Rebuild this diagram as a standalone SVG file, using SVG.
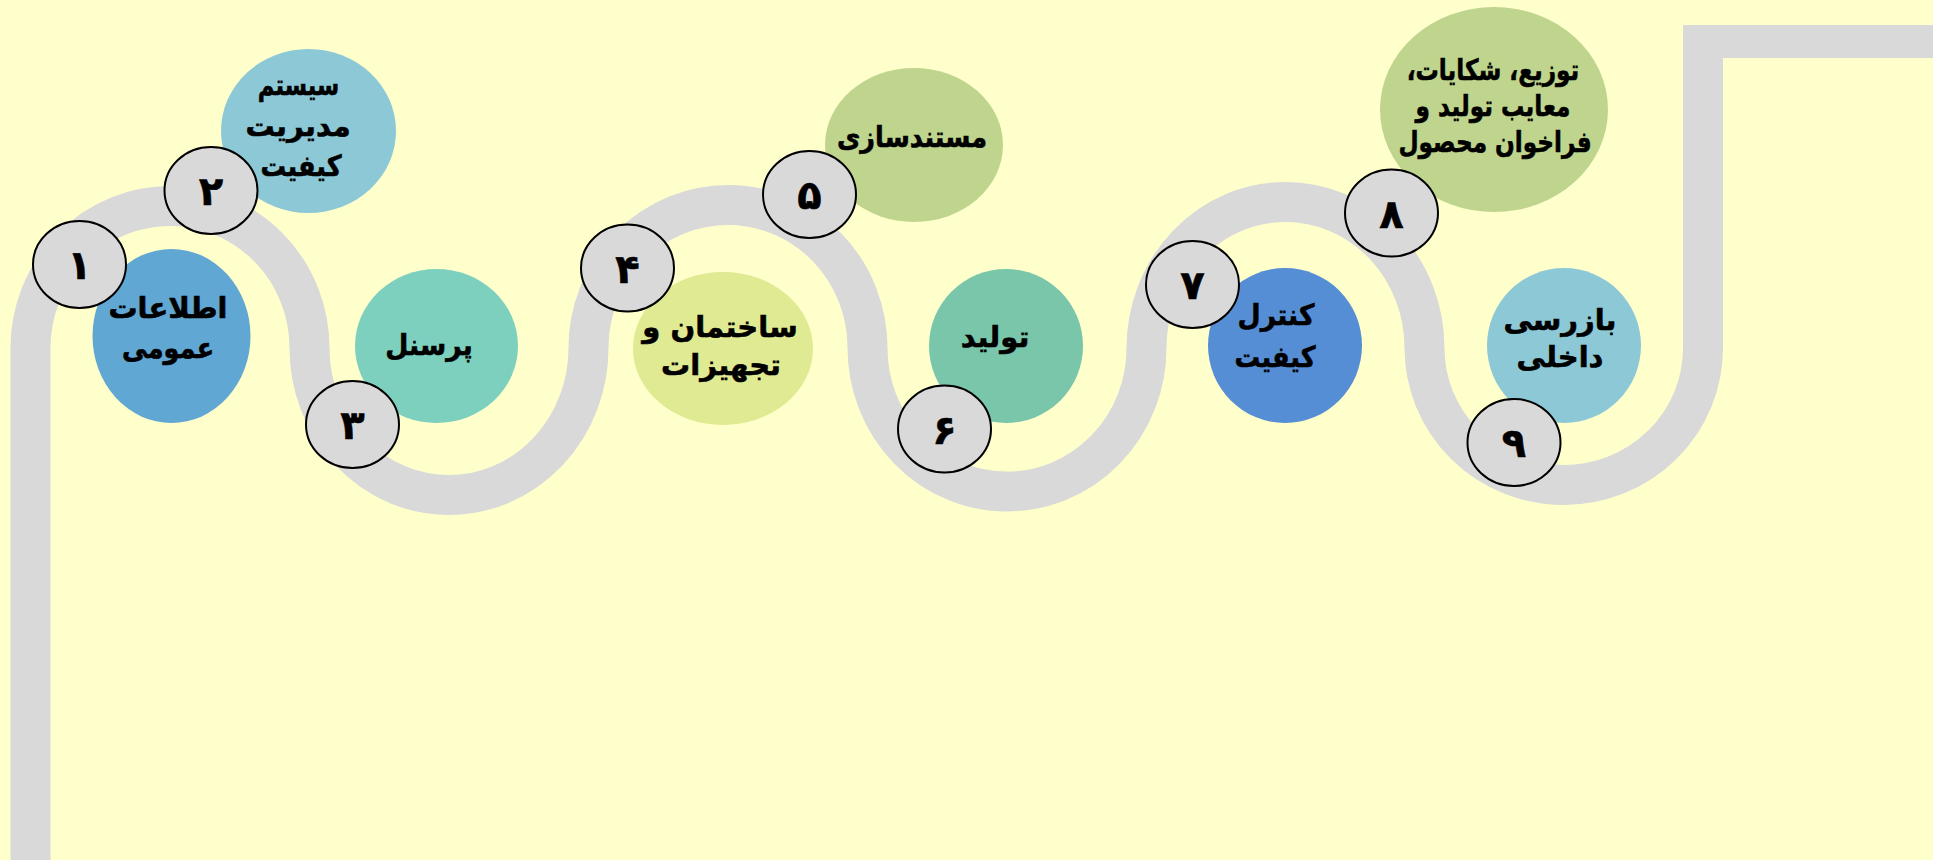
<svg xmlns="http://www.w3.org/2000/svg" width="1933" height="860" viewBox="0 0 1933 860">
<style>
.road{fill:none;stroke:#D9D9D9;stroke-width:40;stroke-linecap:butt}
.bar{fill:#D9D9D9}
.step{fill:#D9D9D9;stroke:#000;stroke-width:2}
.num{font-family:'DejaVu Sans',sans-serif;font-weight:bold;font-size:40px;fill:#000;stroke:#000;stroke-width:0.6;text-anchor:middle;direction:rtl}
.lbl{font-family:'DejaVu Sans',sans-serif;font-weight:bold;font-size:29px;fill:#000;stroke:#000;stroke-width:0.6;text-anchor:middle;direction:rtl}
</style>
<rect x="0" y="0" width="1933" height="860" fill="#FFFFCC"/>
<g id="connectors">
<path class="road" d="M 30.5 860 V 348 A 139.5 142 0 0 1 309.5 348 A 139.5 147 0 0 0 588.5 348 A 139.5 143 0 0 1 867.5 348 A 139.5 143.5 0 0 0 1146.5 348 A 139 146 0 0 1 1424.5 348 A 139.25 137 0 0 0 1703 348 V 25"/>
<rect class="bar" x="1683" y="25" width="250" height="33"/>
</g>
<g id="node1">
<ellipse cx="171.5" cy="336" rx="79" ry="87" fill="#61A7D4"/>
<text class="lbl" x="168" y="318">اطلاعات</text>
<text class="lbl" transform="translate(168,358) scale(0.88,1)" x="0" y="0">عمومی</text>
<ellipse class="step" cx="79.5" cy="264.5" rx="46.5" ry="43.5"/>
<text class="num" x="79.5" y="279">۱</text>
</g>
<g id="node2">
<ellipse cx="308.5" cy="131" rx="87.5" ry="82" fill="#8DC8D7"/>
<text class="lbl" transform="translate(298.5,95) scale(0.78,1)" x="0" y="0">سیستم</text>
<text class="lbl" x="298" y="136">مدیریت</text>
<text class="lbl" transform="translate(301,176) scale(0.88,1)" x="0" y="0">کیفیت</text>
<ellipse class="step" cx="211" cy="190.5" rx="46.5" ry="43.5"/>
<text class="num" x="211" y="205">۲</text>
</g>
<g id="node3">
<ellipse cx="436.5" cy="346" rx="81.5" ry="77" fill="#7DD0BE"/>
<text class="lbl" transform="translate(429,355) scale(0.92,1)" x="0" y="0">پرسنل</text>
<ellipse class="step" cx="352.5" cy="424.5" rx="46.5" ry="43.5"/>
<text class="num" x="352.5" y="439">۳</text>
</g>
<g id="node4">
<ellipse cx="723" cy="348.5" rx="90" ry="76.5" fill="#E0EA92"/>
<text class="lbl" x="720" y="337">ساختمان و</text>
<text class="lbl" x="721" y="375">تجهیزات</text>
<ellipse class="step" cx="627.5" cy="268" rx="46.5" ry="43.5"/>
<text class="num" x="627.5" y="282.5">۴</text>
</g>
<g id="node5">
<ellipse cx="914" cy="145" rx="89" ry="77" fill="#BFD58E"/>
<text class="lbl" transform="translate(912,147) scale(0.88,1)" x="0" y="0">مستندسازی</text>
<ellipse class="step" cx="809.5" cy="194.5" rx="46.5" ry="43.5"/>
<text class="num" x="809.5" y="209">۵</text>
</g>
<g id="node6">
<ellipse cx="1006" cy="346" rx="77" ry="77" fill="#79C6AA"/>
<text class="lbl" x="995" y="347">تولید</text>
<ellipse class="step" cx="944.5" cy="429" rx="46.5" ry="43.5"/>
<text class="num" x="944.5" y="443.5">۶</text>
</g>
<g id="node7">
<ellipse cx="1285" cy="345.5" rx="77" ry="77.5" fill="#568ED5"/>
<text class="lbl" transform="translate(1276,325) scale(0.92,1)" x="0" y="0">کنترل</text>
<text class="lbl" transform="translate(1275,367) scale(0.88,1)" x="0" y="0">کیفیت</text>
<ellipse class="step" cx="1192.5" cy="284.5" rx="46.5" ry="43.5"/>
<text class="num" x="1192.5" y="299">۷</text>
</g>
<g id="node8">
<ellipse cx="1494" cy="109.5" rx="114" ry="102.5" fill="#BFD58E"/>
<text class="lbl" transform="translate(1493,80) scale(0.8,1)" x="0" y="0">توزیع، شکایات،</text>
<text class="lbl" transform="translate(1493,116) scale(0.8,1)" x="0" y="0">معایب تولید و</text>
<text class="lbl" transform="translate(1495,152) scale(0.8,1)" x="0" y="0">فراخوان محصول</text>
<ellipse class="step" cx="1391.5" cy="213" rx="46.5" ry="43.5"/>
<text class="num" x="1391.5" y="227.5">۸</text>
</g>
<g id="node9">
<ellipse cx="1564" cy="345.5" rx="77" ry="77.5" fill="#8DC8D7"/>
<text class="lbl" x="1560" y="330">بازرسی</text>
<text class="lbl" x="1560" y="367">داخلی</text>
<ellipse class="step" cx="1514" cy="442.5" rx="46.5" ry="43.5"/>
<text class="num" x="1514" y="457">۹</text>
</g>
</svg>
